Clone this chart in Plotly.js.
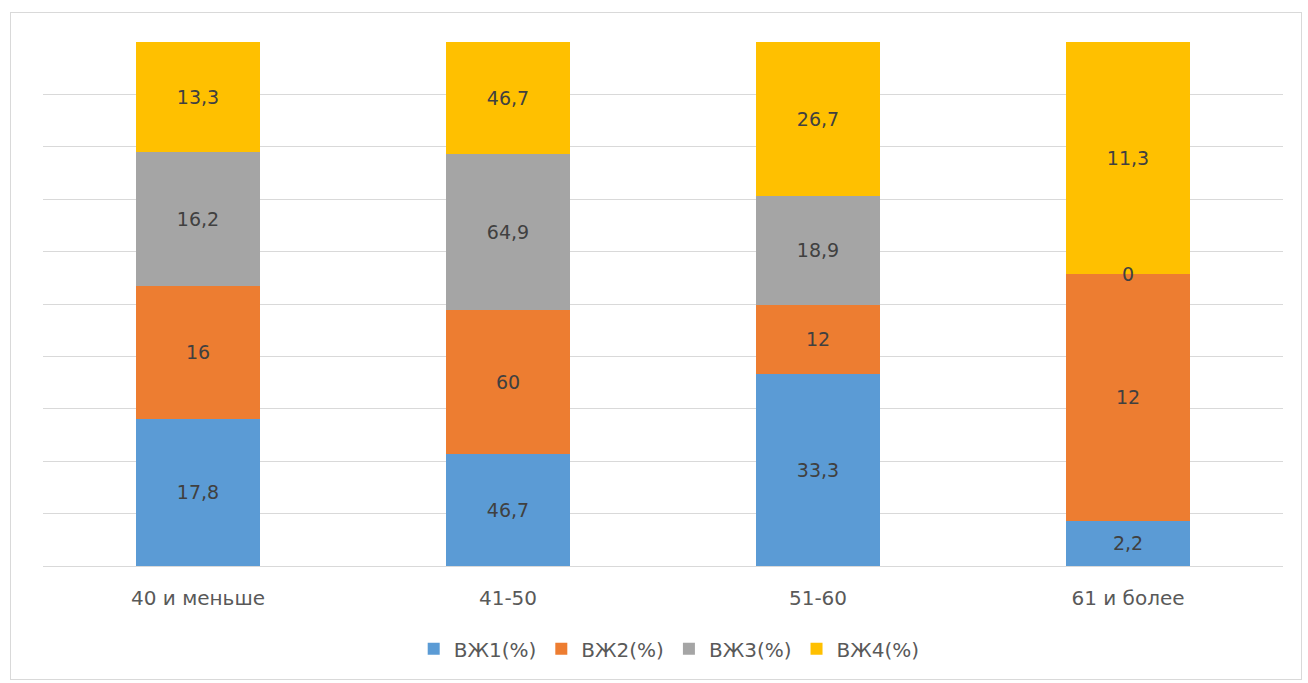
<!DOCTYPE html>
<html>
<head>
<meta charset="utf-8">
<script src="https://cdn.plot.ly/plotly-3.0.1.min.js"></script>
<style>
html,body{margin:0;padding:0;background:#fff;}
#frame{position:absolute;left:10px;top:12px;width:1292px;height:668px;border:1px solid #d9d9d9;box-sizing:border-box;}
#chart{position:absolute;left:0;top:0;width:1308px;height:683px;}
</style>
</head>
<body>
<div id="frame"></div>
<div id="chart"></div>
<script>
const categories = ["40 и меньше", "41-50", "51-60", "61 и более"];
const seriesNames = ["ВЖ1(%)", "ВЖ2(%)", "ВЖ3(%)", "ВЖ4(%)"];
const vzh1 = [17.8, 46.7, 33.3, 2.2];
const vzh2 = [16, 60, 12, 12];
const vzh3 = [16.2, 64.9, 18.9, 0];
const vzh4 = [13.3, 46.7, 26.7, 11.3];
const colors = ["#5B9BD5", "#ED7D31", "#A5A5A5", "#FFC000"];

const series = [vzh1, vzh2, vzh3, vzh4];
const fmt = v => String(v).replace('.', ',');
const FONT = 'DejaVu Sans, Open Sans, sans-serif';

const traces = series.map((vals, i) => ({
  type: 'bar',
  name: seriesNames[i],
  x: categories,
  y: vals,
  marker: {color: colors[i]},
  text: vals.map(v => v === 0 ? '' : fmt(v)),
  textposition: 'inside',
  insidetextanchor: 'middle',
  textangle: 0,
  constraintext: 'none',
  textfont: {family: FONT, size: 19, color: '#404040'},
  hoverinfo: 'none'
}));

// labels for zero-height segments, placed at the stack position derived from the data
const annotations = [];
categories.forEach((c, j) => {
  const total = series.reduce((s, arr) => s + arr[j], 0);
  let cum = 0;
  series.forEach((arr, i) => {
    const v = arr[j];
    if (v === 0) {
      annotations.push({
        x: c, y: cum / total * 100, xref: 'x', yref: 'y',
        text: fmt(v), showarrow: false,
        font: {family: FONT, size: 19, color: '#404040'}
      });
    }
    cum += v;
  });
});

const layout = {
  width: 1308, height: 683,
  barmode: 'stack',
  barnorm: 'percent',
  bargap: 0.6,
  paper_bgcolor: 'rgba(0,0,0,0)',
  plot_bgcolor: 'rgba(0,0,0,0)',
  margin: {l: 43, r: 25, t: 42, b: 117, autoexpand: false},
  font: {family: FONT, color: '#595959'},
  xaxis: {
    type: 'category',
    tickfont: {size: 20, color: '#595959'},
    showgrid: false, zeroline: false, showline: false,
    ticks: '', ticklen: 0,
    ticklabelstandoff: 18,
    automargin: false
  },
  yaxis: {
    range: [0, 100], dtick: 10,
    showticklabels: false,
    showgrid: true, gridcolor: '#d9d9d9', gridwidth: 1,
    zeroline: true, zerolinecolor: '#d9d9d9', zerolinewidth: 1,
    fixedrange: true,
    automargin: false
  },
  showlegend: true,
  legend: {
    orientation: 'h', x: 0.505, xanchor: 'center',
    yref: 'container', y: 0.05, yanchor: 'middle',
    font: {size: 20, color: '#595959'},
    traceorder: 'normal',
    itemwidth: 30
  },
  annotations: annotations
};

Plotly.newPlot('chart', traces, layout, {displayModeBar: false, staticPlot: true});
</script>
</body>
</html>
